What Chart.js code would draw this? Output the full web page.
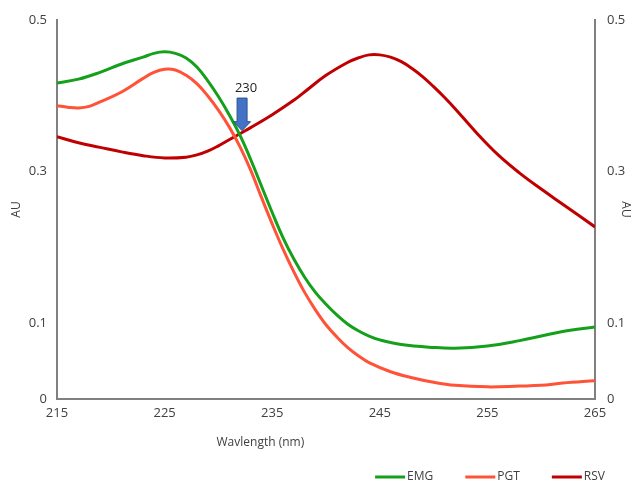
<!DOCTYPE html>
<html>
<head>
<meta charset="utf-8">
<script src="https://cdn.jsdelivr.net/npm/chart.js@4"></script>
<style>
  html, body { margin: 0; padding: 0; background: #fff; }
  #wrap { width: 633px; height: 482px; }
</style>
</head>
<body>
<div id="wrap"><canvas id="myChart" width="633" height="482"></canvas></div>
<script>
// wavelengths (nm) for each series
const emgX = [215, 217, 219, 221, 223, 224, 225, 226, 227, 228, 229, 230, 231, 232, 233, 234, 235, 236, 237, 238, 239, 240, 241, 242, 243, 244, 245, 247, 250, 252, 255, 258, 260, 262, 265]
const emgY = [0.417, 0.422, 0.431, 0.442, 0.451, 0.456, 0.458, 0.456, 0.450, 0.438, 0.420, 0.399, 0.375, 0.348, 0.316, 0.281, 0.246, 0.213, 0.185, 0.161, 0.141, 0.125, 0.111, 0.099, 0.090, 0.083, 0.078, 0.072, 0.068, 0.067, 0.070, 0.077, 0.083, 0.089, 0.095]

const pgtX = [215, 216, 217, 218, 219, 221, 223, 224, 225, 226, 227, 228, 229, 230, 231, 232, 233, 234, 235, 236, 237, 238, 239, 240, 241, 242, 243, 244, 246, 248, 250, 252, 255, 258, 260, 262, 265]
const pgtY = [0.387, 0.385, 0.384, 0.386, 0.392, 0.405, 0.423, 0.431, 0.435, 0.434, 0.427, 0.416, 0.400, 0.381, 0.359, 0.333, 0.302, 0.266, 0.231, 0.198, 0.168, 0.141, 0.118, 0.098, 0.082, 0.068, 0.057, 0.048, 0.036, 0.028, 0.022, 0.018, 0.016, 0.017, 0.018, 0.021, 0.024]

const rsvX = [215, 217, 219, 221, 223, 225, 227, 228, 229, 230, 231, 232, 233, 235, 237, 238, 240, 242, 243, 244, 245, 246, 247, 248, 249, 250, 251, 252, 254, 256, 258, 260, 262, 265]
const rsvY = [0.346, 0.338, 0.332, 0.326, 0.321, 0.318, 0.319, 0.322, 0.327, 0.334, 0.342, 0.350, 0.358, 0.375, 0.394, 0.405, 0.427, 0.444, 0.450, 0.454, 0.454, 0.451, 0.445, 0.436, 0.425, 0.412, 0.398, 0.383, 0.351, 0.322, 0.298, 0.277, 0.257, 0.227]

const seriesNames = ['EMG', 'PGT', 'RSV']
const seriesColors = ['#14a01a', '#ff5238', '#c00000']

const xTicks = [215, 225, 235, 245, 255, 265]
const yTicks = [0, 0.1, 0.3, 0.5]

// isosbestic point marker
const arrowLabel = '230'
const arrowX = 232.2
const arrowTop = 0.397
const arrowTip = 0.354

const toPoints = (xs, ys) => xs.map((x, i) => ({ x: x, y: ys[i] }))

const buildDataSet = (i, xs, ys) => {
  return {
    label: seriesNames[i],
    data: toPoints(xs, ys),
    borderColor: seriesColors[i],
    backgroundColor: seriesColors[i],
    borderWidth: 3,
    pointRadius: 0,
    tension: 0.4,
    fill: false
  }
}

const tickFont = { family: 'Open Sans', size: 13 }
const tickColor = '#404040'
const axisColor = '#808080'

// arrow, x title and legend drawn on top
const extras = {
  id: 'extras',
  afterDraw(chart) {
    const ctx = chart.ctx
    const xs = chart.scales.x
    const ys = chart.scales.y
    const area = chart.chartArea

    // arrow
    const cx = xs.getPixelForValue(arrowX)
    const top = ys.getPixelForValue(arrowTop)
    const tip = ys.getPixelForValue(arrowTip)
    const headH = 9
    ctx.save()
    ctx.beginPath()
    ctx.moveTo(cx - 5, top)
    ctx.lineTo(cx + 5, top)
    ctx.lineTo(cx + 5, tip - headH)
    ctx.lineTo(cx + 8.5, tip - headH)
    ctx.lineTo(cx, tip)
    ctx.lineTo(cx - 8.5, tip - headH)
    ctx.lineTo(cx - 5, tip - headH)
    ctx.closePath()
    ctx.fillStyle = '#4472c4'
    ctx.fill()
    ctx.strokeStyle = '#2f528f'
    ctx.lineWidth = 1
    ctx.stroke()

    ctx.fillStyle = '#222'
    ctx.font = '13px "Open Sans"'
    ctx.textAlign = 'center'
    ctx.textBaseline = 'bottom'
    ctx.fillText(arrowLabel, cx + 4, top - 3)

    // x axis title
    ctx.fillStyle = tickColor
    ctx.font = '12px "Open Sans"'
    ctx.textBaseline = 'middle'
    ctx.fillText('Wavlength (nm)', area.left + (area.right - area.left) * 0.378, 443)

    // legend
    ctx.font = '12px "Open Sans"'
    ctx.textAlign = 'left'
    const lineW = 30, gap = 2, spacing = 32
    const widths = seriesNames.map(n => lineW + gap + ctx.measureText(n).width)
    let total = widths.reduce((a, b) => a + b, 0) + spacing * (widths.length - 1)
    let lx = 605 - total
    const ly = 477
    seriesNames.forEach((n, i) => {
      ctx.strokeStyle = seriesColors[i]
      ctx.lineWidth = 3
      ctx.beginPath()
      ctx.moveTo(lx, ly)
      ctx.lineTo(lx + lineW, ly)
      ctx.stroke()
      ctx.fillStyle = tickColor
      ctx.fillText(n, lx + lineW + gap, ly)
      lx += widths[i] + spacing
    })
    ctx.restore()
  }
}

const yAxis = (pos, pad, width, titlePad) => ({
  type: 'linear',
  position: pos,
  min: 0,
  max: 0.5,
  afterBuildTicks: scale => { scale.ticks = yTicks.map(v => ({ value: v })) },
  afterFit: scale => { scale.width = width },
  grid: { display: false, drawTicks: false },
  border: { display: true, color: axisColor, width: 2 },
  ticks: {
    padding: pad,
    color: tickColor,
    font: tickFont,
    callback: v => String(v)
  },
  title: {
    display: true,
    text: 'AU',
    color: tickColor,
    font: { family: 'Open Sans', size: 12 },
    padding: { top: titlePad, bottom: 0 }
  }
})

const createChart = () => {
  let ctx = document.getElementById('myChart').getContext('2d'),
      chart = new Chart(ctx, {
    type: 'line',
    data: {
      datasets: [
        buildDataSet(0, emgX, emgY),
        buildDataSet(1, pgtX, pgtY),
        buildDataSet(2, rsvX, rsvY)
      ]
    },
    options: {
      responsive: false,
      animation: false,
      layout: { padding: { top: 20, left: 0, right: 0, bottom: 0 } },
      plugins: {
        legend: { display: false },
        tooltip: { enabled: false }
      },
      scales: {
        x: {
          type: 'linear',
          min: 215,
          max: 265,
          afterBuildTicks: scale => { scale.ticks = xTicks.map(v => ({ value: v })) },
          afterFit: scale => { scale.height = 83 },
          grid: { display: false, drawTicks: false },
          border: { display: true, color: axisColor, width: 2 },
          ticks: { padding: 6, color: tickColor, font: tickFont, maxRotation: 0 }
        },
        y: yAxis('left', 10, 57, 9),
        y1: yAxis('right', 12, 38, 0)
      }
    },
    plugins: [extras]
  })
  return chart
}

createChart()
</script>
</body>
</html>
